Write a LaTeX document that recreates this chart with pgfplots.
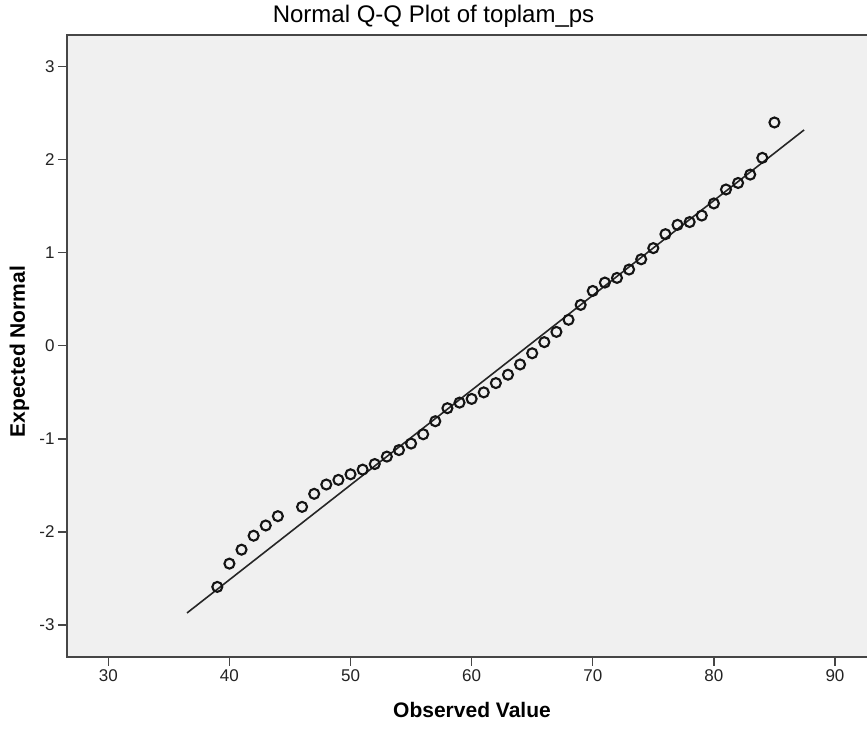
\documentclass[border=0pt]{standalone}
\usepackage{pgfplots}
\pgfplotsset{compat=1.18}
\usepackage{fontspec}
\setmainfont{Liberation Sans}
\definecolor{bgc}{RGB}{240,240,240}
\definecolor{framec}{RGB}{70,70,70}
\definecolor{txt}{RGB}{35,35,35}
\definecolor{mk}{RGB}{20,20,20}
\begin{document}
\begin{tikzpicture}
\useasboundingbox (0,0) rectangle (867pt,729pt);
\clip (0,0) rectangle (867pt,729pt);
\begin{axis}[
  at={(67pt,72.3pt)}, anchor=south west,
  scale only axis, width=802pt, height=621.7pt,
  xmin=26.59, xmax=92.81, ymin=-3.34, ymax=3.34,
  axis background/.style={fill=bgc},
  axis line style={framec, line width=1.6pt},
  xtick={30,40,...,90}, ytick={-3,-2,...,3},
  tick align=outside, tick pos=left,
  major tick length=9pt,
  every tick/.style={framec, line width=1.3pt},
  ticklabel style={font=\fontsize{17}{20}\selectfont, text=txt},
  /pgf/number format/assume math mode=true,
  title={Normal Q-Q Plot of toplam\_ps},
  title style={font=\fontsize{24}{28}\selectfont, text=black, at={(axis description cs:0.457,1.0097)}, anchor=base},
  xlabel={Observed Value},
  xlabel style={font=\bfseries\fontsize{21}{24}\selectfont, text=black, at={(axis description cs:0.505,-0.098)}, anchor=base},
  ylabel={Expected Normal},
  ylabel style={font=\bfseries\fontsize{21}{24}\selectfont, text=black, at={(axis description cs:-0.0524,0.4906)}, anchor=base},
]
\addplot[black!85, line width=1.6pt] coordinates {(36.5,-2.87) (87.45,2.32)};
\addplot[only marks, mark=o, mark size=5pt, mark options={mk, line width=2.1pt}] coordinates {
(39,-2.59) (40,-2.34) (41,-2.19) (42,-2.04) (43,-1.93) (44,-1.83)
(46,-1.73) (47,-1.59) (48,-1.49) (49,-1.44) (50,-1.38) (51,-1.33)
(52,-1.27) (53,-1.19) (54,-1.12) (55,-1.05) (56,-0.95) (57,-0.81)
(58,-0.67) (59,-0.61) (60,-0.57) (61,-0.50) (62,-0.40) (63,-0.31)
(64,-0.20) (65,-0.08) (66,0.04) (67,0.15) (68,0.28) (69,0.44)
(70,0.59) (71,0.68) (72,0.73) (73,0.82) (74,0.93) (75,1.05)
(76,1.20) (77,1.30) (78,1.33) (79,1.40) (80,1.53) (81,1.68)
(82,1.75) (83,1.84) (84,2.02) (85,2.40)
};
\end{axis}
\end{tikzpicture}
\end{document}
